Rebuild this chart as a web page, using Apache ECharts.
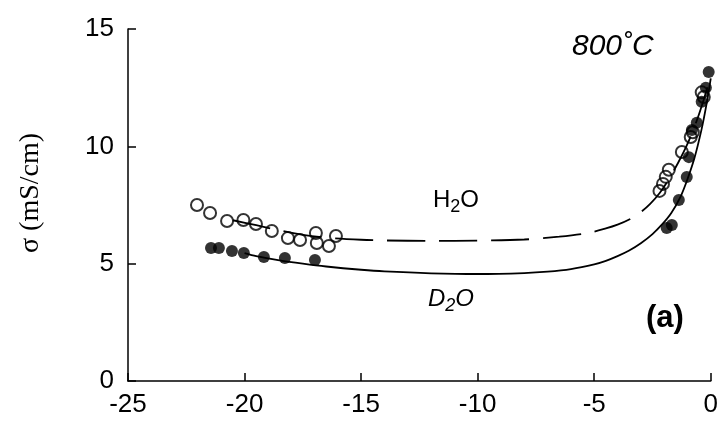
<!DOCTYPE html>
<html>
<head>
<meta charset="utf-8">
<script src="https://cdn.jsdelivr.net/npm/echarts@6/dist/echarts.min.js"></script>
<style>
  html, body { margin: 0; padding: 0; background: #fff; }
  #main { width: 721px; height: 425px; }
</style>
</head>
<body>
<div id="main"></div>
<script>
// tick labels
var xTicks = [-25, -20, -15, -10, -5, 0];
var yTicks = [0, 5, 10, 15];

// measured points, H2O (open circles)
var h2oPoints = [
    [-22.04, 7.50], [-21.48, 7.16], [-20.75, 6.82], [-20.05, 6.86], [-19.51, 6.69],
    [-18.83, 6.39], [-18.14, 6.09], [-17.62, 6.01], [-16.94, 6.31], [-16.90, 5.88],
    [-16.38, 5.75], [-16.08, 6.18],
    [-2.20, 8.10], [-2.05, 8.40], [-1.93, 8.70], [-1.80, 9.00], [-1.24, 9.76],
    [-0.86, 10.40], [-0.77, 10.60], [-0.39, 12.30], [-0.30, 12.10]
];

// measured points, D2O (filled circles)
var d2oPoints = [
    [-21.44, 5.67], [-21.10, 5.67], [-20.54, 5.54], [-20.03, 5.45], [-19.17, 5.28],
    [-18.27, 5.24], [-16.98, 5.16],
    [-1.89, 6.52], [-1.67, 6.65], [-1.37, 7.71], [-1.03, 8.69], [-0.94, 9.54],
    [-0.81, 10.70], [-0.60, 11.00], [-0.39, 11.90], [-0.21, 12.50], [-0.09, 13.17]
];

// fitted curves
var h2oCurve = [
    [-20.5, 6.85], [-19.5, 6.64], [-18.5, 6.42], [-17.5, 6.23], [-16.5, 6.11],
    [-15, 6.02], [-14, 5.99], [-12, 5.97], [-10, 5.98], [-8, 6.03], [-6.5, 6.15],
    [-5.3, 6.3], [-4.5, 6.5], [-4, 6.66], [-3.5, 6.88], [-3, 7.2], [-2.6, 7.55],
    [-2.2, 8.0], [-1.8, 8.6], [-1.4, 9.3], [-1.0, 10.1], [-0.6, 11.1], [-0.3, 12.0],
    [0, 13.0]
];
var d2oCurve = [
    [-20, 5.45], [-19.5, 5.32], [-18.5, 5.14], [-17.5, 5.0], [-16.5, 4.88],
    [-15, 4.74], [-14, 4.67], [-12, 4.59], [-10, 4.56], [-8, 4.6], [-7, 4.66],
    [-6, 4.77], [-5, 4.97], [-4.5, 5.12], [-4, 5.32], [-3.5, 5.56], [-3, 5.87],
    [-2.5, 6.26], [-2.1, 6.66], [-1.7, 7.15], [-1.3, 7.85], [-1.0, 8.6],
    [-0.7, 9.5], [-0.4, 10.7], [-0.2, 11.7], [0, 12.9]
];

var chart = echarts.init(document.getElementById('main'));

var font = 'Liberation Sans, Arial, sans-serif';

var option = {
    backgroundColor: '#fff',
    animation: false,
    grid: { left: 128, right: 9, top: 29, bottom: 44 },
    xAxis: {
        type: 'value',
        min: xTicks[0],
        max: xTicks[xTicks.length - 1],
        interval: 5,
        axisLine: { onZero: false, lineStyle: { color: '#000', width: 1.5 } },
        axisTick: { inside: true, length: 8, lineStyle: { color: '#000', width: 1.5 } },
        axisLabel: {
            color: '#000', fontSize: 26, fontFamily: font, margin: 11,
            formatter: function (v) { return xTicks.indexOf(v) >= 0 ? String(v) : ''; }
        },
        splitLine: { show: false }
    },
    yAxis: {
        type: 'value',
        min: yTicks[0],
        max: yTicks[yTicks.length - 1],
        interval: 5,
        axisLine: { show: true, onZero: false, lineStyle: { color: '#000', width: 1.5 } },
        axisTick: { show: true, inside: true, length: 8, lineStyle: { color: '#000', width: 1.5 } },
        axisLabel: {
            color: '#000', fontSize: 26, fontFamily: font, margin: 14,
            formatter: function (v) { return yTicks.indexOf(v) >= 0 ? String(v) : ''; }
        },
        splitLine: { show: false }
    },
    series: [
        {
            name: 'H2O fit',
            type: 'line',
            data: h2oCurve,
            smooth: 0.3,
            symbol: 'none',
            lineStyle: { color: '#000', width: 1.8, type: [38, 14] },
            z: 1
        },
        {
            name: 'D2O fit',
            type: 'line',
            data: d2oCurve,
            smooth: 0.3,
            symbol: 'none',
            lineStyle: { color: '#000', width: 1.8 },
            z: 1
        },
        {
            name: 'H2O',
            type: 'scatter',
            data: h2oPoints,
            symbol: 'circle',
            symbolSize: 12,
            itemStyle: { color: 'rgba(0,0,0,0)', borderColor: '#000', borderWidth: 2 },
            z: 3
        },
        {
            name: 'D2O',
            type: 'scatter',
            data: d2oPoints,
            symbol: 'circle',
            symbolSize: 12,
            itemStyle: { color: '#000' },
            z: 3
        }
    ],
    graphic: [
        {
            // y axis title
            type: 'text', x: 31, y: 193, rotation: Math.PI / 2,
            style: {
                text: 'σ (mS/cm)', fontSize: 28, fill: '#000',
                fontFamily: 'Liberation Serif, Times New Roman, serif',
                align: 'center', verticalAlign: 'middle'
            }
        },
        {
            type: 'text', left: 572, top: 32,
            style: { text: '800˚C', fontSize: 30, fontStyle: 'italic', fontFamily: font, fill: '#000' }
        },
        {
            type: 'text', left: 433, top: 188,
            style: {
                text: '{n|H}{s|2}{n|O}',
                rich: {
                    n: { fontSize: 24, fontFamily: font, fill: '#000' },
                    s: { fontSize: 18, fontFamily: font, fill: '#000', padding: [14, 0, 0, 0] }
                }
            }
        },
        {
            type: 'text', left: 428, top: 287,
            style: {
                text: '{n|D}{s|2}{n|O}',
                rich: {
                    n: { fontSize: 24, fontStyle: 'italic', fontFamily: font, fill: '#000' },
                    s: { fontSize: 18, fontStyle: 'italic', fontFamily: font, fill: '#000', padding: [14, 0, 0, 0] }
                }
            }
        },
        {
            type: 'text', left: 646, top: 303,
            style: { text: '(a)', fontSize: 31, fontWeight: 'bold', fontFamily: font, fill: '#000' }
        }
    ]
};

chart.setOption(option);
</script>
</body>
</html>
